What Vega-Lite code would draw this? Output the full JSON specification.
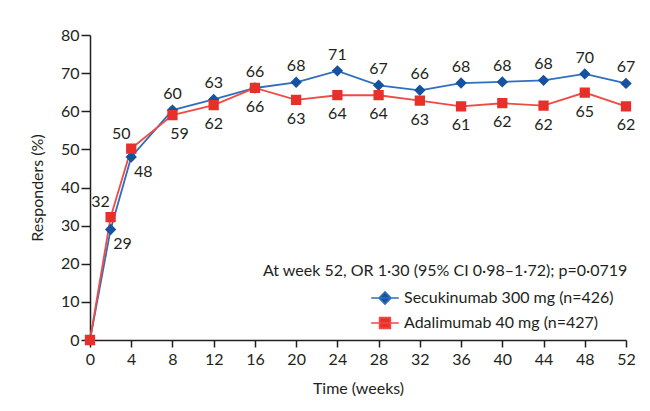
{
  "$schema": "https://vega.github.io/schema/vega-lite/v6.json",
  "width": 536,
  "height": 305,
  "autosize": {"type": "none"},
  "padding": {"left": 90, "top": 35, "right": 24, "bottom": 71},
  "background": "white",
  "config": {
    "view": {"stroke": null},
    "font": "Lato",
    "axis": {
      "domainColor": "#231f20",
      "domainWidth": 1.5,
      "tickColor": "#231f20",
      "tickWidth": 1.5,
      "labelFontSize": 16,
      "labelColor": "#231f20",
      "labelFont": "Lato",
      "titleFontSize": 16,
      "titleFontWeight": "normal",
      "titleColor": "#231f20",
      "titleFont": "Lato",
      "grid": false
    },
    "legend": {
      "orient": "none",
      "legendX": 173,
      "legendY": 228,
      "padding": 0,
      "titleFontSize": 16,
      "titleFontWeight": "normal",
      "titleColor": "#231f20",
      "titleFont": "Lato",
      "titleLimit": 600,
      "titleAnchor": "start",
      "titlePadding": 11,
      "labelFontSize": 16,
      "labelColor": "#231f20",
      "labelFont": "Lato",
      "labelLimit": 400,
      "symbolSize": 144,
      "symbolOffset": 114,
      "labelOffset": 11,
      "rowPadding": 6,
      "symbolOpacity": 1,
      "symbolStrokeWidth": 1.6
    }
  },
  "data": {
    "values": [
      {"week": 0, "series": "Secukinumab 300 mg (n=426)", "value": 0, "label": ""},
      {"week": 2, "series": "Secukinumab 300 mg (n=426)", "value": 29.0, "label": "29"},
      {"week": 4, "series": "Secukinumab 300 mg (n=426)", "value": 48.0, "label": "48"},
      {"week": 8, "series": "Secukinumab 300 mg (n=426)", "value": 60.3, "label": "60"},
      {"week": 12, "series": "Secukinumab 300 mg (n=426)", "value": 63.1, "label": "63"},
      {"week": 16, "series": "Secukinumab 300 mg (n=426)", "value": 66.1, "label": "66"},
      {"week": 20, "series": "Secukinumab 300 mg (n=426)", "value": 67.6, "label": "68"},
      {"week": 24, "series": "Secukinumab 300 mg (n=426)", "value": 70.6, "label": "71"},
      {"week": 28, "series": "Secukinumab 300 mg (n=426)", "value": 66.8, "label": "67"},
      {"week": 32, "series": "Secukinumab 300 mg (n=426)", "value": 65.5, "label": "66"},
      {"week": 36, "series": "Secukinumab 300 mg (n=426)", "value": 67.4, "label": "68"},
      {"week": 40, "series": "Secukinumab 300 mg (n=426)", "value": 67.7, "label": "68"},
      {"week": 44, "series": "Secukinumab 300 mg (n=426)", "value": 68.1, "label": "68"},
      {"week": 48, "series": "Secukinumab 300 mg (n=426)", "value": 69.8, "label": "70"},
      {"week": 52, "series": "Secukinumab 300 mg (n=426)", "value": 67.3, "label": "67"},
      {"week": 0, "series": "Adalimumab 40 mg (n=427)", "value": 0, "label": ""},
      {"week": 2, "series": "Adalimumab 40 mg (n=427)", "value": 32.2, "label": "32"},
      {"week": 4, "series": "Adalimumab 40 mg (n=427)", "value": 50.2, "label": "50"},
      {"week": 8, "series": "Adalimumab 40 mg (n=427)", "value": 59.0, "label": "59"},
      {"week": 12, "series": "Adalimumab 40 mg (n=427)", "value": 61.6, "label": "62"},
      {"week": 16, "series": "Adalimumab 40 mg (n=427)", "value": 66.1, "label": "66"},
      {"week": 20, "series": "Adalimumab 40 mg (n=427)", "value": 63.0, "label": "63"},
      {"week": 24, "series": "Adalimumab 40 mg (n=427)", "value": 64.2, "label": "64"},
      {"week": 28, "series": "Adalimumab 40 mg (n=427)", "value": 64.2, "label": "64"},
      {"week": 32, "series": "Adalimumab 40 mg (n=427)", "value": 62.8, "label": "63"},
      {"week": 36, "series": "Adalimumab 40 mg (n=427)", "value": 61.3, "label": "61"},
      {"week": 40, "series": "Adalimumab 40 mg (n=427)", "value": 62.1, "label": "62"},
      {"week": 44, "series": "Adalimumab 40 mg (n=427)", "value": 61.5, "label": "62"},
      {"week": 48, "series": "Adalimumab 40 mg (n=427)", "value": 64.9, "label": "65"},
      {"week": 52, "series": "Adalimumab 40 mg (n=427)", "value": 61.3, "label": "62"}
    ]
  },
  "encoding": {
    "x": {
      "field": "week",
      "type": "quantitative",
      "scale": {"domain": [0, 52], "nice": false, "zero": false},
      "axis": {
        "values": [0, 4, 8, 12, 16, 20, 24, 28, 32, 36, 40, 44, 48, 52],
        "title": "Time (weeks)",
        "tickSize": 7,
        "labelPadding": 4,
        "titlePadding": 13,
        "labelFlush": false
      }
    },
    "y": {
      "field": "value",
      "type": "quantitative",
      "scale": {"domain": [0, 80], "nice": false},
      "axis": {
        "values": [0, 10, 20, 30, 40, 50, 60, 70, 80],
        "title": "Responders (%)",
        "tickSize": 9,
        "labelPadding": 2,
        "titlePadding": 15,
        "labelFlush": false
      }
    }
  },
  "layer": [
    {
      "mark": {"type": "line", "strokeWidth": 1.8},
      "encoding": {
        "stroke": {
          "field": "series",
          "type": "nominal",
          "scale": {"domain": ["Secukinumab 300 mg (n=426)", "Adalimumab 40 mg (n=427)"], "range": ["#2f6fbd", "#f04a44"]},
          "legend": {"title": "At week 52, OR 1·30 (95% CI 0·98–1·72); p=0·0719"}
        }
      }
    },
    {
      "mark": {"type": "point", "filled": true, "opacity": 1, "size": 130, "strokeWidth": 0},
      "encoding": {
        "color": {
          "field": "series",
          "type": "nominal",
          "scale": {"domain": ["Secukinumab 300 mg (n=426)", "Adalimumab 40 mg (n=427)"], "range": ["#1552a0", "#e8302a"]},
          "legend": {"title": "At week 52, OR 1·30 (95% CI 0·98–1·72); p=0·0719"}
        },
        "stroke": {
          "field": "series",
          "type": "nominal",
          "legend": {"title": "At week 52, OR 1·30 (95% CI 0·98–1·72); p=0·0719"}
        },
        "shape": {
          "field": "series",
          "type": "nominal",
          "scale": {
            "domain": ["Secukinumab 300 mg (n=426)", "Adalimumab 40 mg (n=427)"],
            "range": ["M-2.3,0L2.3,0M-1,0L0,-1L1,0L0,1Z", "M-2.3,0L2.3,0M-0.9,-0.9L0.9,-0.9L0.9,0.9L-0.9,0.9Z"]
          },
          "legend": {"title": "At week 52, OR 1·30 (95% CI 0·98–1·72); p=0·0719"}
        }
      }
    },
    {
      "transform": [{"filter": "datum.series === 'Secukinumab 300 mg (n=426)' && datum.week >= 8"}],
      "mark": {"type": "text", "fontSize": 16, "color": "#231f20", "baseline": "middle", "align": "center", "dy": -16},
      "encoding": {"text": {"field": "label"}}
    },
    {
      "transform": [{"filter": "datum.series === 'Adalimumab 40 mg (n=427)' && datum.week >= 12"}],
      "mark": {"type": "text", "fontSize": 16, "color": "#231f20", "baseline": "middle", "align": "center", "dy": 19},
      "encoding": {"text": {"field": "label"}}
    },
    {
      "transform": [{"filter": "datum.series === 'Adalimumab 40 mg (n=427)' && datum.week == 8"}],
      "mark": {"type": "text", "fontSize": 16, "color": "#231f20", "baseline": "middle", "align": "center", "dx": 7, "dy": 19},
      "encoding": {"text": {"field": "label"}}
    },
    {
      "transform": [{"filter": "datum.series === 'Secukinumab 300 mg (n=426)' && datum.week > 0 && datum.week < 8"}],
      "mark": {"type": "text", "fontSize": 16, "color": "#231f20", "baseline": "middle", "align": "center", "dx": 12, "dy": 15},
      "encoding": {"text": {"field": "label"}}
    },
    {
      "transform": [{"filter": "datum.series === 'Adalimumab 40 mg (n=427)' && datum.week > 0 && datum.week < 8"}],
      "mark": {"type": "text", "fontSize": 16, "color": "#231f20", "baseline": "middle", "align": "center", "dx": -10, "dy": -15},
      "encoding": {"text": {"field": "label"}}
    }
  ]
}
